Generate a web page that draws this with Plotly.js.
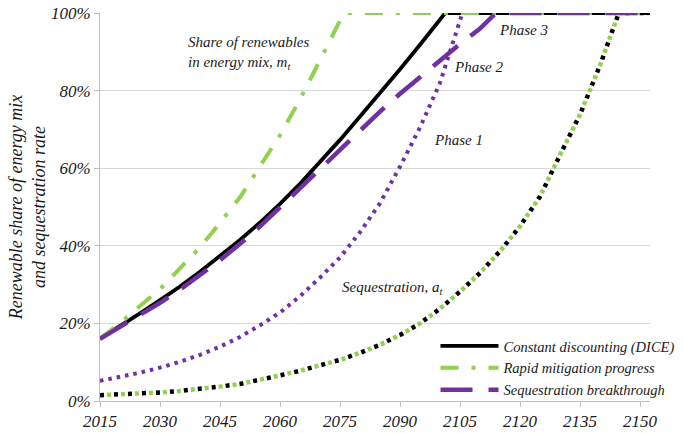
<!DOCTYPE html>
<html>
<head>
<meta charset="utf-8">
<script src="https://cdn.plot.ly/plotly-3.0.1.min.js"></script>
<style>html,body{margin:0;padding:0;background:#fff;}#chart{width:684px;height:433px;}</style>
</head>
<body>
<div id="chart"></div>
<script>
// Share of renewables in energy mix, m_t (%)
var dice_m_years = [2015,2020,2025,2030,2035,2040,2045,2050,2055,2060,2065,2070,2075,2080,2085,2090,2095,2100,2101.3,2152.5];
var dice_m       = [16.1,19.3,22.6,26.0,29.5,33.3,37.3,41.5,46.0,50.8,56.0,61.5,67.3,73.3,79.3,85.5,91.8,98.3,100,100];

var rapid_m_years = [2015,2020,2025,2030,2035,2040,2045,2050,2055,2060,2065,2070,2075,2076.2,2152.5];
var rapid_m       = [16.1,20.0,24.5,28.8,34.2,39.6,45.9,52.5,60.5,68.5,77.7,88.0,98.0,100,100];

var seqb_m_years = [2015,2020,2025,2030,2035,2040,2045,2050,2055,2060,2065,2070,2075,2080,2085,2090,2095,2100,2105,2110,2114,2152.5];
var seqb_m       = [16.0,19.0,22.1,25.3,28.7,32.4,36.3,40.5,45.0,49.9,54.9,60.0,65.0,69.9,74.6,79.2,83.5,87.8,92.0,96.0,100,100];

// Sequestration rate, a_t (%)
var dice_a_years = [2015,2020,2025,2030,2035,2040,2045,2050,2055,2060,2065,2070,2075,2080,2085,2090,2095,2100,2105,2110,2115,2120,2125,2130,2135,2140,2144.7,2152.5];
var dice_a       = [1.5,1.7,1.9,2.2,2.6,3.1,3.7,4.4,5.4,6.6,7.8,9.1,10.6,12.4,14.5,17.0,20.0,23.8,28.2,33.0,38.6,45.0,52.7,63.4,73.8,86.5,100,100];

var rapid_a_years = [2015,2020,2025,2030,2035,2040,2045,2050,2055,2060,2065,2070,2075,2080,2085,2090,2095,2100,2105,2110,2115,2120,2125,2130,2135,2140,2144.7,2152.5];
var rapid_a       = [1.5,1.7,1.9,2.2,2.6,3.1,3.7,4.4,5.4,6.6,7.8,9.1,10.6,12.4,14.5,17.0,20.0,23.8,28.2,33.0,38.6,45.0,52.7,63.4,73.8,86.5,100,100];

var seqb_a_years = [2015,2020,2025,2030,2035,2040,2045,2050,2055,2060,2065,2070,2075,2080,2085,2090,2095,2100,2105,2105.6,2152.5];
var seqb_a       = [5.2,6.2,7.3,8.6,10.1,11.9,14.0,16.5,19.5,22.8,27.0,31.8,37.0,43.5,51.0,60.4,70.5,82.0,98.0,100,100];

var xTicks = [2015,2030,2045,2060,2075,2090,2105,2120,2135,2150];
var seriesNames = ['Constant discounting (DICE)','Rapid mitigation progress','Sequestration breakthrough'];

var BLACK = '#000000', GREEN = '#92d050', PURPLE = '#7030a0';
var FONT = 'Liberation Serif';
var TXT = '#1a1a1a';

var traces = [
  {x: dice_a_years, y: dice_a, mode:'lines', showlegend:false, hoverinfo:'skip',
   line:{color:BLACK, width:4.5, dash:'4px,10px'}},
  {x: rapid_a_years, y: rapid_a, mode:'lines', showlegend:false, hoverinfo:'skip',
   line:{color:GREEN, width:4.5, dash:'0px,7px,4px,3px'}},
  {x: seqb_a_years, y: seqb_a, mode:'lines', showlegend:false, hoverinfo:'skip',
   line:{color:PURPLE, width:4, dash:'3.5px,5px'}},
  {x: dice_m_years, y: dice_m, mode:'lines', name: seriesNames[0],
   line:{color:BLACK, width:3.8}},
  {x: rapid_m_years, y: rapid_m, mode:'lines', name: seriesNames[1],
   line:{color:GREEN, width:4, dash:'18px,13px,4px,13px'}},
  {x: seqb_m_years, y: seqb_m, mode:'lines', name: seriesNames[2],
   line:{color:PURPLE, width:4.5, dash:'32px,16px'}}
];

function ann(x, y, text) {
  return {x:x, y:y, xref:'x', yref:'y', text:text, showarrow:false, xanchor:'left', yanchor:'middle',
          align:'left', font:{family:FONT, size:15, color:TXT, style:'italic'}};
}

var layout = {
  width:684, height:433,
  margin:{l:100, r:34, t:13, b:32, autoexpand:false},
  paper_bgcolor:'#ffffff', plot_bgcolor:'#ffffff',
  font:{family:FONT, color:TXT, style:'italic'},
  showlegend:true,
  legend:{x:0.61, y:0.085, xanchor:'left', yanchor:'middle', bgcolor:'rgba(0,0,0,0)',
          itemwidth:58, font:{family:FONT, size:14.5, color:TXT, style:'italic'}, tracegroupgap:0},
  xaxis:{range:[2015,2152.5], tickmode:'array', tickvals:xTicks, ticktext:xTicks.map(String),
         showgrid:false, zeroline:false, showline:true, linecolor:'#bfbfbf', linewidth:1,
         ticks:'outside', ticklen:5, tickcolor:'#bfbfbf', tickwidth:1, automargin:false,
         tickfont:{family:FONT, size:17, color:TXT, style:'italic'}},
  yaxis:{range:[0,100], tickmode:'linear', tick0:0, dtick:20, ticksuffix:'%',
         showgrid:true, gridcolor:'#d9d9d9', gridwidth:1.3, zeroline:false,
         showline:true, linecolor:'#bfbfbf', linewidth:1, automargin:false,
         ticks:'outside', ticklen:5, tickcolor:'#bfbfbf', tickwidth:1,
         tickfont:{family:FONT, size:17, color:TXT, style:'italic'},
         title:{text:'Renewable share of energy mix<br>and sequestration rate', standoff:0,
                font:{family:FONT, size:18, color:TXT, style:'italic'}}},
  annotations:[
    ann(2036.5, 89.7, 'Share of renewables<br>in energy mix, m<sub>t</sub>'),
    ann(2114.3, 95.6, 'Phase 3'),
    ann(2103, 86.2, 'Phase 2'),
    ann(2098, 67.3, 'Phase 1'),
    ann(2075, 29.1, 'Sequestration, a<sub>t</sub>')
  ]
};

Plotly.newPlot('chart', traces, layout, {displayModeBar:false, staticPlot:true});
</script>
</body>
</html>
